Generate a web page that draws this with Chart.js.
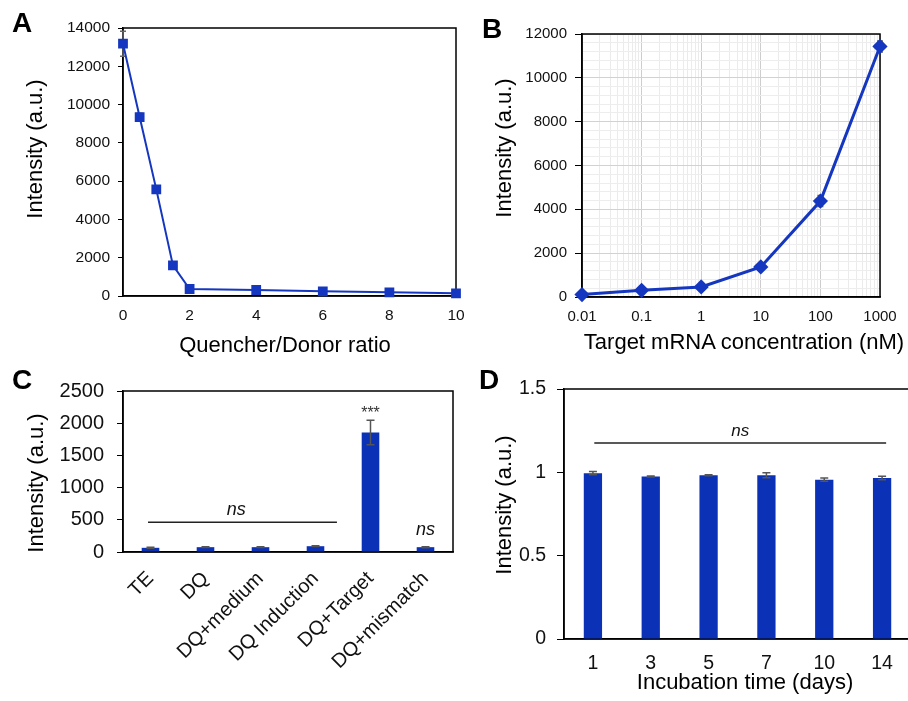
<!DOCTYPE html>
<html>
<head>
<meta charset="utf-8">
<script src="https://cdn.jsdelivr.net/npm/chart.js@4.4.1/dist/chart.umd.min.js"></script>
<style>
  body { margin: 0; width: 908px; height: 701px; overflow: hidden; position: relative; background: #fff; }
  canvas { position: absolute; }
  .t { position: absolute; transform: translate(-50%, -50%); font-family: "Liberation Sans", Arial, sans-serif; line-height: 1; white-space: nowrap; color: #000; }
  .tag { font-size: 28px; font-weight: bold; }
  .ttl { font-size: 22px; }
  .rot { transform: translate(-50%, -50%) rotate(-90deg); }
</style>
</head>
<body>
<canvas id="chartA" width="476" height="360" style="left:0;top:0"></canvas>
<canvas id="chartB" width="448" height="360" style="left:460px;top:0"></canvas>
<canvas id="chartC" width="468" height="341" style="left:0;top:360px"></canvas>
<canvas id="chartD" width="452" height="341" style="left:460px;top:360px"></canvas>

<div class="t tag" style="left:22px;top:23px">A</div>
<div class="t tag" style="left:492px;top:29px">B</div>
<div class="t tag" style="left:22px;top:380px">C</div>
<div class="t tag" style="left:489px;top:380px">D</div>

<div class="t ttl" style="left:285px;top:345px">Quencher/Donor ratio</div>
<div class="t ttl rot" style="left:35px;top:149px">Intensity (a.u.)</div>
<div class="t ttl" style="left:744px;top:342px">Target mRNA concentration (nM)</div>
<div class="t ttl rot" style="left:504px;top:148px">Intensity (a.u.)</div>
<div class="t ttl rot" style="left:36px;top:483px">Intensity (a.u.)</div>
<div class="t ttl" style="left:745px;top:682px">Incubation time (days)</div>
<div class="t ttl rot" style="left:504px;top:505px">Intensity (a.u.)</div>

<script>
// --- data ---
const ratioA = [0, 0.5, 1, 1.5, 2, 4, 6, 8, 10];
const intensityA = [13180, 9350, 5570, 1600, 366, 313, 245, 193, 141];
const errA = [650, 200, 150, 80, 40, 30, 30, 30, 30];

const concB = [0.01, 0.1, 1, 10, 100, 1000];
const intensityB = [110, 306, 457, 1372, 4376, 11433];
const errB = [30, 40, 50, 120, 250, 250];
const decadesB = [0.01, 0.1, 1, 10, 100, 1000];

const groupsC = ['TE', 'DQ', 'DQ+medium', 'DQ Induction', 'DQ+Target', 'DQ+mismatch'];
const intensityC = [65, 75, 75, 90, 1855, 75];
const errC = [8, 5, 5, 6, 190, 8];
const nsLineC = [-0.045, 3.39, 462];          // from, to, level
const notesC = [['ns', 1.56, 571], ['ns', 5, 260], ['***', 4, 2075]];

const daysD = ['1', '3', '5', '7', '10', '14'];
const intensityD = [0.995, 0.975, 0.982, 0.982, 0.956, 0.966];
const errD = [0.01, 0.003, 0.003, 0.015, 0.01, 0.01];
const nsLineD = [0.024, 5.07, 1.176];
const notesD = [['ns', 2.547, 1.22]];

const lineBlue = '#1537c0';
const barBlue = '#0b31b6';

Chart.defaults.font.family = '"Liberation Sans", Arial, sans-serif';
Chart.defaults.color = '#111';

// --- plugins ---
const frame = {
  id: 'frame',
  beforeDatasetsDraw(chart) {
    const { ctx, chartArea: a } = chart;
    ctx.save();
    ctx.strokeStyle = '#000';
    ctx.lineWidth = 1.5;
    ctx.strokeRect(a.left, a.top, a.right - a.left, a.bottom - a.top);
    ctx.restore();
  }
};

function errorBars(errs, color, cap, under) {
  function draw(chart) {
    const ctx = chart.ctx;
    const meta = chart.getDatasetMeta(0);
    const ys = chart.scales.y;
    const ds = chart.data.datasets[0];
    ctx.save();
    ctx.strokeStyle = color;
    ctx.lineWidth = 1.5;
    meta.data.forEach((el, i) => {
      const v = typeof ds.data[i] === 'object' ? ds.data[i].y : ds.data[i];
      const y1 = ys.getPixelForValue(v + errs[i]);
      const y2 = ys.getPixelForValue(v - errs[i]);
      ctx.beginPath();
      ctx.moveTo(el.x, y1); ctx.lineTo(el.x, y2);
      ctx.moveTo(el.x - cap, y1); ctx.lineTo(el.x + cap, y1);
      ctx.moveTo(el.x - cap, y2); ctx.lineTo(el.x + cap, y2);
      ctx.stroke();
    });
    ctx.restore();
  }
  return under ? { id: 'err', beforeDatasetsDraw: draw } : { id: 'err', afterDatasetsDraw: draw };
}

function notes(line, texts, fontSize) {
  return {
    id: 'notes',
    afterDatasetsDraw(chart) {
      const { ctx, scales: { x, y } } = chart;
      ctx.save();
      ctx.strokeStyle = '#222';
      ctx.lineWidth = 1.5;
      ctx.beginPath();
      ctx.moveTo(x.getPixelForValue(line[0]), y.getPixelForValue(line[2]));
      ctx.lineTo(x.getPixelForValue(line[1]), y.getPixelForValue(line[2]));
      ctx.stroke();
      ctx.textAlign = 'center';
      ctx.textBaseline = 'alphabetic';
      texts.forEach(t => {
        ctx.fillStyle = t[0] === '***' ? '#333' : '#111';
        ctx.font = t[0] === '***' ? '16px "Liberation Sans", Arial' : 'italic ' + fontSize + 'px "Liberation Sans", Arial';
        ctx.fillText(t[0], x.getPixelForValue(t[1]), y.getPixelForValue(t[2]));
      });
      ctx.restore();
    }
  };
}

const noLegend = { legend: { display: false }, tooltip: { enabled: false } };

// --- A ---
new Chart(document.getElementById('chartA'), {
  type: 'line',
  data: {
    datasets: [{
      data: ratioA.map((r, i) => ({ x: r, y: intensityA[i] })),
      borderColor: lineBlue, backgroundColor: lineBlue,
      borderWidth: 2, pointStyle: 'rect', pointRadius: 5.5, tension: 0, clip: false
    }]
  },
  options: {
    responsive: false, animation: false,
    layout: { padding: { top: 28, right: 20, left: 0, bottom: 0 } },
    plugins: noLegend,
    scales: {
      x: {
        type: 'linear', min: 0, max: 10,
        ticks: { stepSize: 2, padding: 10, font: { size: 15.5 }, maxRotation: 0 },
        grid: { display: false, drawTicks: false },
        border: { color: '#000', width: 1.5 },
        afterFit: s => { s.height = 64; }
      },
      y: {
        min: 0, max: 14000,
        ticks: { stepSize: 2000, padding: 8, font: { size: 15.5 }, callback: v => v },
        grid: { drawOnChartArea: false, tickLength: 5, color: '#000' },
        border: { color: '#000', width: 1.5 },
        afterFit: s => { s.width = 123; }
      }
    }
  },
  plugins: [frame, errorBars(errA, '#666', 3, true)]
});

// --- B ---
new Chart(document.getElementById('chartB'), {
  type: 'line',
  data: {
    datasets: [{
      data: concB.map((c, i) => ({ x: c, y: intensityB[i] })),
      borderColor: lineBlue, backgroundColor: lineBlue,
      borderWidth: 3, pointStyle: 'rectRot', pointRadius: 5.5, tension: 0, clip: false
    }]
  },
  options: {
    responsive: false, animation: false,
    layout: { padding: { top: 34, right: 28, left: 0, bottom: 0 } },
    plugins: noLegend,
    scales: {
      x: {
        type: 'logarithmic', min: 0.01, max: 1000,
        afterBuildTicks: s => {
          const t = [];
          decadesB.forEach((d, i) => {
            t.push({ value: d });
            if (i < decadesB.length - 1) for (let k = 2; k <= 9; k++) t.push({ value: d * k });
          });
          s.ticks = t;
        },
        ticks: {
          autoSkip: false, maxRotation: 0, padding: 11, font: { size: 15 },
          callback: v => decadesB.includes(v) ? String(v) : ''
        },
        grid: {
          drawTicks: false,
          color: c => decadesB.includes(c.tick.value) ? '#cdcdcd' : '#ebebeb'
        },
        border: { color: '#000', width: 1.5 },
        afterFit: s => { s.height = 63; }
      },
      y: {
        min: 0, max: 12000,
        ticks: {
          stepSize: 400, autoSkip: false, padding: 8, font: { size: 15 },
          callback: v => v % 2000 === 0 ? v : ''
        },
        grid: {
          tickLength: 7,
          color: c => c.tick.value % 2000 === 0 ? '#d2d2d2' : '#ededed',
          tickColor: c => c.tick.value % 2000 === 0 ? '#000' : 'rgba(0,0,0,0)'
        },
        border: { color: '#000', width: 1.5 },
        afterFit: s => { s.width = 122; }
      }
    }
  },
  plugins: [frame, errorBars(errB, '#666', 3, true)]
});

// --- C ---
new Chart(document.getElementById('chartC'), {
  type: 'bar',
  data: {
    labels: groupsC,
    datasets: [{ data: intensityC, backgroundColor: barBlue, barPercentage: 0.32, categoryPercentage: 1 }]
  },
  options: {
    responsive: false, animation: false,
    layout: { padding: { top: 31, right: 15, left: 0, bottom: 0 } },
    plugins: noLegend,
    scales: {
      x: {
        ticks: { minRotation: 45, maxRotation: 45, padding: 15, font: { size: 20 }, autoSkip: false },
        grid: { display: false, drawTicks: false },
        border: { color: '#000', width: 1.5 },
        afterFit: s => { s.height = 149; }
      },
      y: {
        min: 0, max: 2500,
        ticks: { stepSize: 500, padding: 13, font: { size: 20 }, callback: v => v },
        grid: { drawOnChartArea: false, tickLength: 6, color: '#000' },
        border: { color: '#000', width: 1.5 },
        afterFit: s => { s.width = 123; }
      }
    }
  },
  plugins: [frame, errorBars(errC, '#555', 4, false), notes(nsLineC, notesC, 18)]
});

// --- D ---
new Chart(document.getElementById('chartD'), {
  type: 'bar',
  data: {
    labels: daysD,
    datasets: [{ data: intensityD, backgroundColor: barBlue, barPercentage: 0.316, categoryPercentage: 1 }]
  },
  options: {
    responsive: false, animation: false,
    layout: { padding: { top: 29, right: 1, left: 0, bottom: 0 } },
    plugins: noLegend,
    scales: {
      x: {
        ticks: { maxRotation: 0, padding: 13, font: { size: 19.5 } },
        grid: { display: false, drawTicks: false },
        border: { color: '#000', width: 1.5 },
        afterFit: s => { s.height = 62; }
      },
      y: {
        min: 0, max: 1.5,
        ticks: { stepSize: 0.5, padding: 11, font: { size: 19.5 }, callback: v => v },
        grid: { drawOnChartArea: false, tickLength: 7, color: '#000' },
        border: { color: '#000', width: 1.5 },
        afterFit: s => { s.width = 104; }
      }
    }
  },
  plugins: [frame, errorBars(errD, '#555', 4, false), notes(nsLineD, notesD, 17)]
});
</script>
</body>
</html>
